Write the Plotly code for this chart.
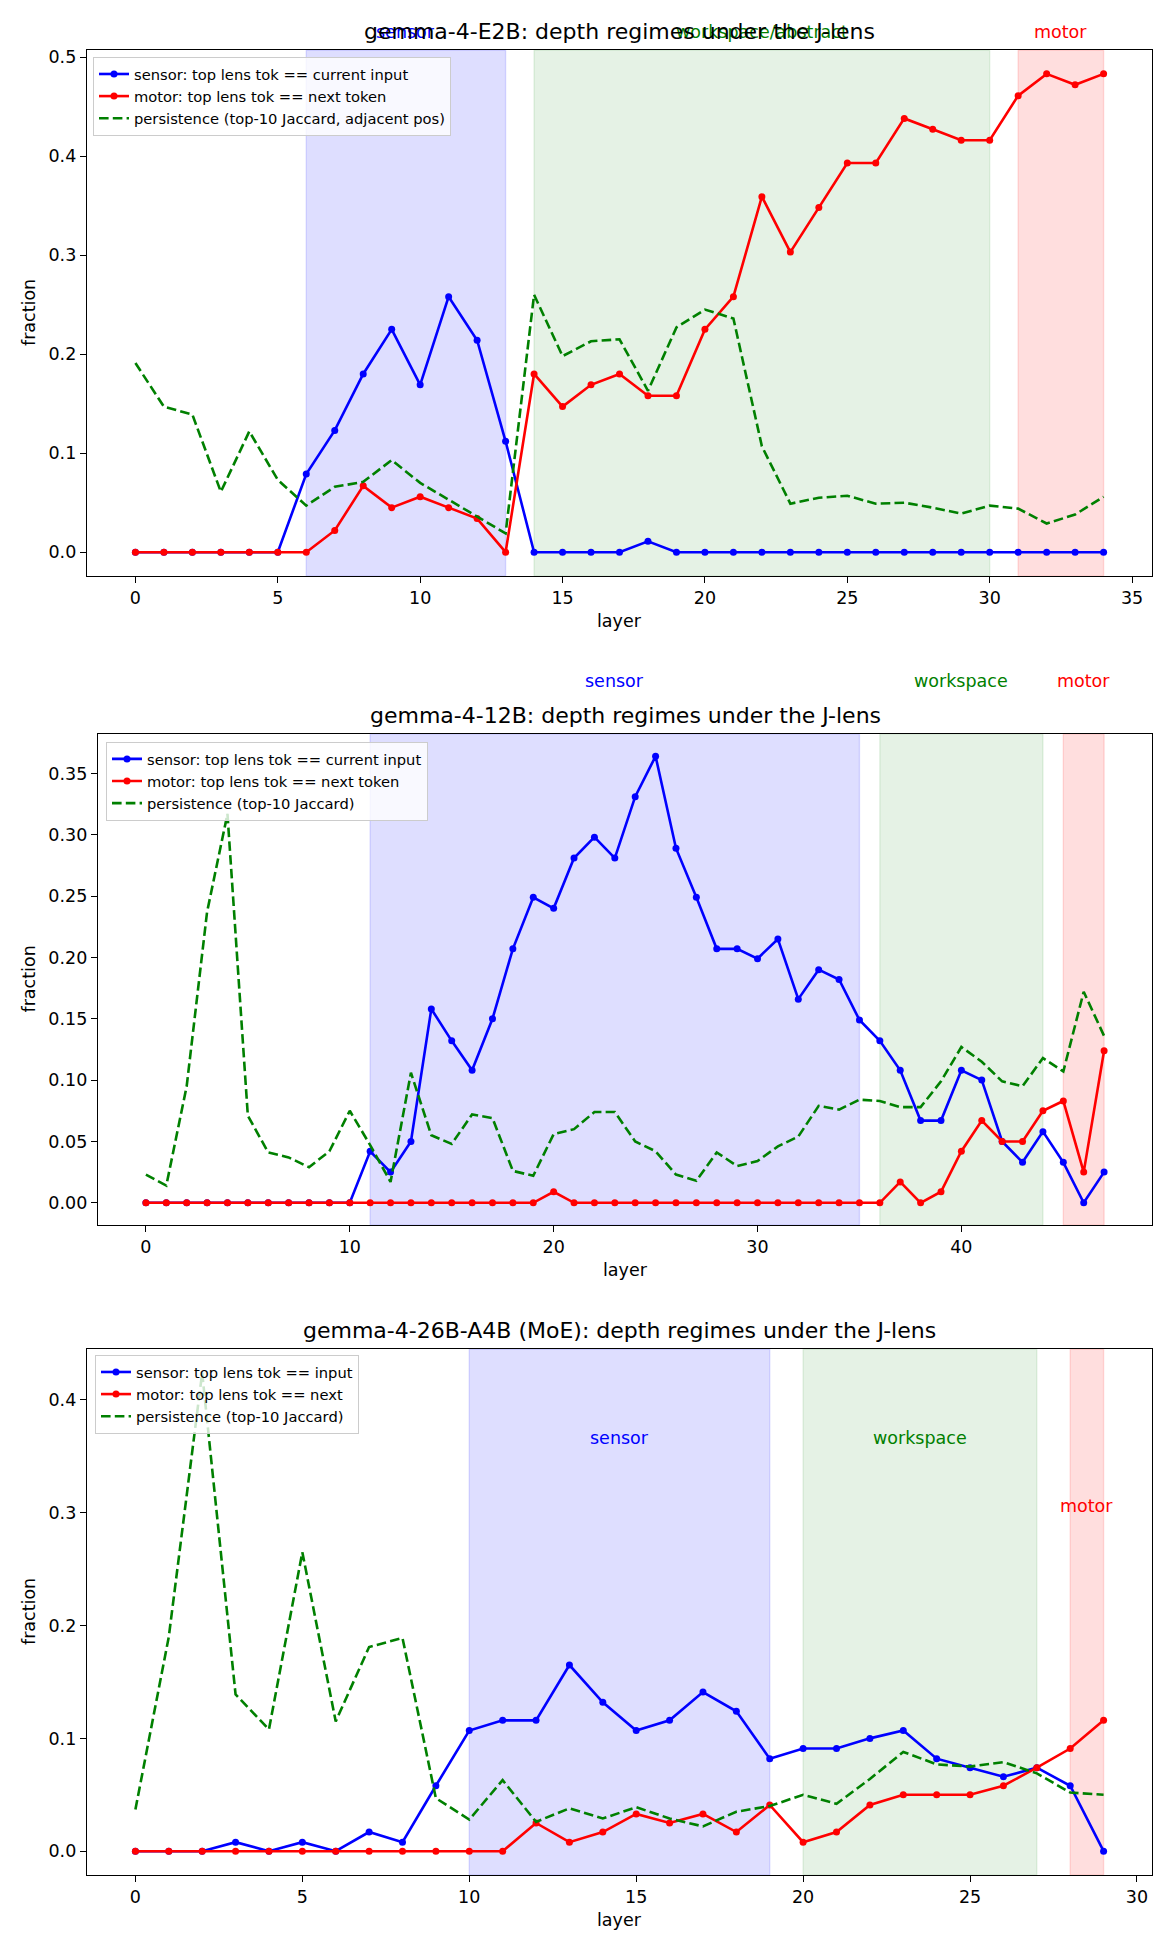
import plotly.graph_objects as go

# the page body keeps the browser's 8px margin, so the figure is sized and
# laid out in page pixels minus that offset
OFF = 8
W, H = 1170 - OFF, 1950 - OFF

# ---- data: gemma-4-E2B ----
e2b_sensor = [0, 0, 0, 0, 0, 0, 0.079, 0.123, 0.180, 0.225, 0.169, 0.258, 0.214, 0.112,
              0, 0, 0, 0, 0.011, 0, 0, 0, 0, 0, 0, 0, 0, 0, 0, 0, 0, 0, 0, 0, 0]
e2b_motor = [0, 0, 0, 0, 0, 0, 0, 0.022, 0.067, 0.045, 0.056, 0.045, 0.034, 0,
             0.180, 0.147, 0.169, 0.180, 0.158, 0.158, 0.225, 0.258, 0.359, 0.303, 0.348,
             0.393, 0.393, 0.438, 0.427, 0.416, 0.416, 0.461, 0.483, 0.472, 0.483]
e2b_persist = [0.191, 0.147, 0.139, 0.061, 0.122, 0.073, 0.047, 0.066, 0.071, 0.093, 0.070,
               0.053, 0.036, 0.019, 0.260, 0.198, 0.213, 0.215, 0.163, 0.227, 0.245, 0.236,
               0.107, 0.049, 0.055, 0.057, 0.049, 0.050, 0.045, 0.039, 0.047, 0.044, 0.029,
               0.038, 0.056]
e2b_regions = [("sensor", 6, 13), ("workspace/abstract", 14, 30), ("motor", 31, 34)]

# ---- data: gemma-4-12B ----
g12_sensor = [0, 0, 0, 0, 0, 0, 0, 0, 0, 0, 0, 0.042, 0.025, 0.050, 0.158, 0.132, 0.108,
              0.150, 0.207, 0.249, 0.240, 0.281, 0.298, 0.281, 0.331, 0.364, 0.289, 0.249,
              0.207, 0.207, 0.199, 0.215, 0.166, 0.190, 0.182, 0.149, 0.132, 0.108, 0.067,
              0.067, 0.108, 0.100, 0.050, 0.033, 0.058, 0.033, 0, 0.025]
g12_motor = [0, 0, 0, 0, 0, 0, 0, 0, 0, 0, 0, 0, 0, 0, 0, 0, 0, 0, 0, 0, 0.009, 0, 0, 0,
             0, 0, 0, 0, 0, 0, 0, 0, 0, 0, 0, 0, 0, 0.017, 0, 0.009, 0.042, 0.067, 0.050,
             0.050, 0.075, 0.083, 0.025, 0.124]
g12_persist = [0.023, 0.014, 0.095, 0.237, 0.317, 0.071, 0.041, 0.037, 0.029, 0.042, 0.075,
               0.047, 0.017, 0.106, 0.055, 0.048, 0.072, 0.069, 0.026, 0.022, 0.056, 0.060,
               0.074, 0.074, 0.050, 0.042, 0.023, 0.018, 0.041, 0.030, 0.034, 0.046, 0.054,
               0.079, 0.076, 0.084, 0.083, 0.078, 0.078, 0.099, 0.127, 0.115, 0.099, 0.095,
               0.118, 0.107, 0.172, 0.136]
g12_regions = [("sensor", 11, 35), ("workspace", 36, 44), ("motor", 45, 47)]

# ---- data: gemma-4-26B-A4B (MoE) ----
moe_sensor = [0, 0, 0, 0.008, 0, 0.008, 0, 0.017, 0.008, 0.058, 0.107, 0.116, 0.116, 0.165,
              0.132, 0.107, 0.116, 0.141, 0.124, 0.082, 0.091, 0.091, 0.100, 0.107, 0.082,
              0.074, 0.066, 0.074, 0.058, 0]
moe_motor = [0, 0, 0, 0, 0, 0, 0, 0, 0, 0, 0, 0, 0.025, 0.008, 0.017, 0.033, 0.025, 0.033,
             0.017, 0.041, 0.008, 0.017, 0.041, 0.050, 0.050, 0.050, 0.058, 0.074, 0.091, 0.116]
moe_persist = [0.037, 0.190, 0.424, 0.139, 0.108, 0.265, 0.115, 0.181, 0.189, 0.047, 0.028,
               0.063, 0.026, 0.038, 0.029, 0.039, 0.029, 0.022, 0.035, 0.040, 0.050, 0.042,
               0.064, 0.088, 0.077, 0.075, 0.079, 0.069, 0.052, 0.050]
moe_regions = [("sensor", 10, 19), ("workspace", 20, 27), ("motor", 28, 29)]

panels = [
    dict(title="gemma-4-E2B: depth regimes under the J-lens",
         s=e2b_sensor, m=e2b_motor, p=e2b_persist, regions=e2b_regions,
         names=["sensor: top lens tok == current input", "motor: top lens tok == next token",
                "persistence (top-10 Jaccard, adjacent pos)"],
         box=(87, 1152, 47, 574), dtick=(5, 0.1), fmt=".1f",
         label_y=[1.034, 1.034, 1.034], legend=(93, 54)),
    dict(title="gemma-4-12B: depth regimes under the J-lens",
         s=g12_sensor, m=g12_motor, p=g12_persist, regions=g12_regions,
         names=["sensor: top lens tok == current input", "motor: top lens tok == next token",
                "persistence (top-10 Jaccard)"],
         box=(98, 1152, 732, 1224), dtick=(10, 0.05), fmt=".2f",
         label_y=[1.108, 1.108, 1.108], legend=(106, 740)),
    dict(title="gemma-4-26B-A4B (MoE): depth regimes under the J-lens",
         s=moe_sensor, m=moe_motor, p=moe_persist, regions=moe_regions,
         names=["sensor: top lens tok == input", "motor: top lens tok == next",
                "persistence (top-10 Jaccard)"],
         box=(87, 1152, 1348, 1875), dtick=(5, 0.1), fmt=".1f",
         label_y=[0.831, 0.831, 0.702], legend=(95, 1354)),
]

FONT = "DejaVu Sans"
span_fill = ["rgba(0,0,255,0.13)", "rgba(0,128,0,0.10)", "rgba(255,0,0,0.13)"]
label_col = ["blue", "green", "red"]

fig = go.Figure()
shapes, annotations = [], []


def px_x(v):
    return (v - OFF) / W


def px_y(v):
    return 1 - (v - OFF) / H


for i, pnl in enumerate(panels):
    n = i + 1
    sfx = "" if n == 1 else str(n)
    xa, ya = "x" + sfx, "y" + sfx
    leg = "legend" + sfx
    layers = list(range(len(pnl["s"])))
    x0, x1, y0, y1 = pnl["box"]

    fig.add_trace(go.Scatter(x=layers, y=pnl["s"], name=pnl["names"][0], mode="lines+markers",
                             line=dict(color="blue", width=2.6), marker=dict(size=7, color="blue"),
                             xaxis=xa, yaxis=ya, legend=leg))
    fig.add_trace(go.Scatter(x=layers, y=pnl["m"], name=pnl["names"][1], mode="lines+markers",
                             line=dict(color="red", width=2.6), marker=dict(size=7, color="red"),
                             xaxis=xa, yaxis=ya, legend=leg))
    fig.add_trace(go.Scatter(x=layers, y=pnl["p"], name=pnl["names"][2], mode="lines",
                             line=dict(color="green", width=2.6, dash="9.6px,4.2px"),
                             xaxis=xa, yaxis=ya, legend=leg))

    nx = len(layers) - 1
    ymax = max(max(pnl["s"]), max(pnl["m"]), max(pnl["p"]))
    axis_common = dict(showline=True, linecolor="black", linewidth=1.4, mirror=True,
                       ticks="outside", ticklen=6, tickwidth=1.4, tickcolor="black",
                       showgrid=False, zeroline=False,
                       tickfont=dict(family=FONT, size=17.5, color="black"))
    fig.update_layout({
        "xaxis" + sfx: dict(domain=[px_x(x0), px_x(x1)], range=[-0.05 * nx, nx * 1.05],
                            dtick=pnl["dtick"][0], tick0=0, anchor=ya, **axis_common),
        "yaxis" + sfx: dict(domain=[px_y(y1), px_y(y0)], range=[-0.05 * ymax, ymax * 1.05],
                            dtick=pnl["dtick"][1], tick0=0, tickformat=pnl["fmt"], anchor=xa,
                            **axis_common),
        leg: dict(x=px_x(pnl["legend"][0]), y=px_y(pnl["legend"][1]), xanchor="left",
                  yanchor="top", bgcolor="rgba(255,255,255,0.8)", bordercolor="#cccccc",
                  borderwidth=1, font=dict(family=FONT, size=14.7, color="black"),
                  tracegroupgap=0, itemwidth=30),
    })

    for k, (lab, a, b) in enumerate(pnl["regions"]):
        shapes.append(dict(type="rect", xref=xa, yref=ya + " domain", x0=a, x1=b, y0=0, y1=1,
                           fillcolor=span_fill[k], line=dict(color=span_fill[k], width=1.4),
                           layer="below"))
        annotations.append(dict(text=lab, xref=xa, yref=ya + " domain", x=(a + b) / 2,
                                y=pnl["label_y"][k], xanchor="center", yanchor="middle",
                                showarrow=False, font=dict(family=FONT, size=17.5,
                                                           color=label_col[k])))

    annotations.append(dict(text=pnl["title"], xref=xa + " domain", yref=ya + " domain",
                            x=0.5, y=1 + 18 / (y1 - y0), xanchor="center", yanchor="middle",
                            showarrow=False, font=dict(family=FONT, size=22, color="black")))
    annotations.append(dict(text="fraction", xref="paper", yref="paper", x=px_x(29),
                            y=px_y((y0 + y1) / 2), textangle=-90, xanchor="center",
                            yanchor="middle", showarrow=False,
                            font=dict(family=FONT, size=17.5, color="black")))
    annotations.append(dict(text="layer", xref="paper", yref="paper", x=px_x((x0 + x1) / 2),
                            y=px_y(y1 + 45), xanchor="center", yanchor="middle",
                            showarrow=False, font=dict(family=FONT, size=17.5, color="black")))

fig.update_layout(width=W, height=H, margin=dict(l=0, r=0, t=0, b=0),
                  paper_bgcolor="white", plot_bgcolor="white",
                  shapes=shapes, annotations=annotations,
                  font=dict(family=FONT, color="black"))

fig.write_html("out.html")
